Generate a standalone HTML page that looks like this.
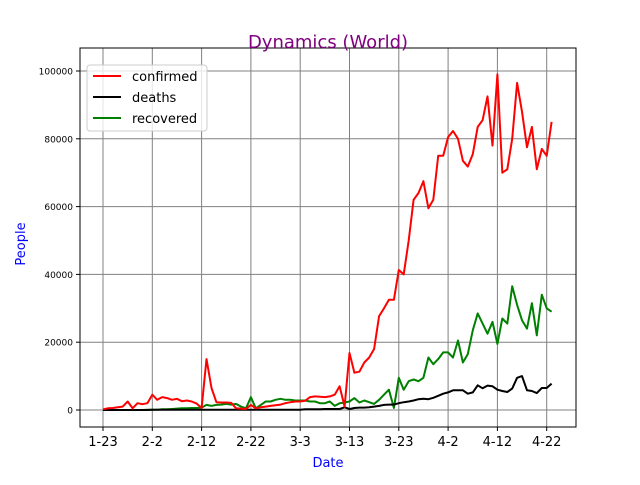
<!DOCTYPE html>
<html><head><meta charset="utf-8"><style>
body{margin:0;background:#fff;font-family:"Liberation Sans","DejaVu Sans",sans-serif}
svg text{font-family:"DejaVu Sans","Liberation Sans",sans-serif}
</style></head><body>
<svg id="chart" width="640" height="480" viewBox="0 0 640 480">
<rect x="0" y="0" width="640" height="480" fill="#fff"/>
<g id="grid"></g><g id="series"></g><g id="axes"></g>
<text x="328" y="48" text-anchor="middle" font-size="18" fill="#800080">Dynamics (World)</text>
<text x="328" y="467" text-anchor="middle" font-size="13" fill="blue">Date</text>
<text transform="translate(25,244) rotate(-90)" text-anchor="middle" font-size="13" fill="blue">People</text>
<g>
<rect x="87" y="65" width="120" height="66" rx="3" fill="#fff" fill-opacity="0.8" stroke="#ccc"/>
<g><line x1="93" y1="76" x2="121" y2="76" stroke="red" stroke-width="2"/><text x="132" y="81" font-size="13">confirmed</text></g>
<g><line x1="93" y1="97" x2="121" y2="97" stroke="black" stroke-width="2"/><text x="132" y="102" font-size="13">deaths</text></g>
<g><line x1="93" y1="118" x2="121" y2="118" stroke="green" stroke-width="2"/><text x="132" y="123" font-size="13">recovered</text></g>
</g>
</svg>
<script>
const xTickLabels=["1-23","2-2","2-12","2-22","3-3","3-13","3-23","4-2","4-12","4-22"];
const yTicks=[0,20000,40000,60000,80000,100000];
const confirmed=[0.2,0.5,0.6,0.8,1.0,2.5,0.5,2.0,1.7,2.0,4.5,3.0,3.8,3.5,3.0,3.3,2.6,2.8,2.5,1.9,0.6,15,6.5,2.3,2.2,2.2,2.1,0.5,0.4,0.3,1.5,0.5,0.8,1.0,1.2,1.4,1.6,2.0,2.3,2.5,2.5,2.7,3.8,4.0,3.9,3.8,4.0,4.5,7.0,1.0,16.8,11,11.3,14,15.5,18,27.7,30,32.5,32.5,41.3,40,50,62,64,67.5,59.5,62,75,75,80.5,82.3,80,73.5,71.8,75.5,83.5,85.5,92.5,78,99,70,71,80,96.5,88,77.5,83.5,71,77,75,85].map(v=>v*1000);
const deaths=[0,0,0,0,0,0,0,0,0,0,0.1,0.1,0.1,0.1,0.1,0.1,0.1,0.1,0.1,0.1,0.1,0.1,0.1,0.1,0.1,0.1,0.1,0.1,0.1,0.1,0.1,0.1,0.1,0.1,0.1,0.1,0.1,0.1,0.1,0.1,0.1,0.2,0.2,0.2,0.2,0.3,0.3,0.3,0.3,0.8,0.3,0.6,0.7,0.7,0.8,1.0,1.2,1.5,1.6,1.6,2.0,2.3,2.5,2.8,3.2,3.3,3.2,3.6,4.2,4.8,5.2,5.8,5.8,5.8,4.8,5.2,7.3,6.4,7.2,7.0,6.0,5.6,5.3,6.3,9.5,10,5.8,5.6,5.0,6.5,6.5,7.8].map(v=>v*1000);
const recovered=[0,0,0,0,0,0,0,0,0,0.1,0.1,0.1,0.2,0.2,0.3,0.4,0.5,0.5,0.6,0.6,0.7,1.5,1.2,1.5,1.6,1.8,1.6,1.8,1.0,0.5,3.8,0.5,1.5,2.5,2.5,3,3.3,3,3,2.8,2.8,2.8,2.5,2.5,2,2,2.5,1.2,2,2.2,2.5,3.5,2.2,2.8,2.3,1.8,3,4.5,6,0.6,9.5,6,8.5,9,8.5,9.5,15.5,13.5,15,17,17,15.5,20.5,14,16.5,23.5,28.5,25.5,22.5,26,19.5,27,25.5,36.5,31,26.5,24,31.5,22,34,30,29].map(v=>v*1000);
const NS="http://www.w3.org/2000/svg";
const X0=80,X1=576,Y0=48,Y1=427;
const xS=d=>103+d*4.93;
const yS=v=>410-v*0.00339;
function mk(t,a,p){const e=document.createElementNS(NS,t);for(const k in a)e.setAttribute(k,a[k]);p.appendChild(e);return e;}
const grid=document.getElementById('grid'),axes=document.getElementById('axes'),ser=document.getElementById('series');
xTickLabels.forEach((l,i)=>{const x=xS(i*10);
const g=mk('line',{x1:x,x2:x,y1:Y0,y2:Y1,stroke:'#808080','stroke-width':1},grid);


mk('line',{x1:x,x2:x,y1:Y1,y2:Y1+4,stroke:'#000'},axes);
const t=mk('text',{x:x,y:Y1+19,'text-anchor':'middle','font-size':13},axes);t.textContent=l;

});
yTicks.forEach(v=>{const y=yS(v);
const g=mk('line',{x1:X0,x2:X1,y1:y,y2:y,stroke:'#808080','stroke-width':1},grid);


mk('line',{x1:X0-4,x2:X0,y1:y,y2:y,stroke:'#000'},axes);
const t=mk('text',{x:X0-7,y:y+3.5,'text-anchor':'end','font-size':9},axes);t.textContent=v;

});
const fr=mk('rect',{x:X0,y:Y0,width:X1-X0,height:Y1-Y0,fill:'none',stroke:'#000','stroke-width':1},axes);


[[recovered,'green','line-recovered'],[deaths,'black','line-deaths'],[confirmed,'red','line-confirmed']].forEach(([d,c,n])=>{
const p=mk('polyline',{points:d.map((v,i)=>xS(i).toFixed(1)+','+yS(v).toFixed(1)).join(' '),fill:'none',stroke:c,'stroke-width':2,'stroke-linejoin':'round'},ser);

});
</script>
</body></html>
